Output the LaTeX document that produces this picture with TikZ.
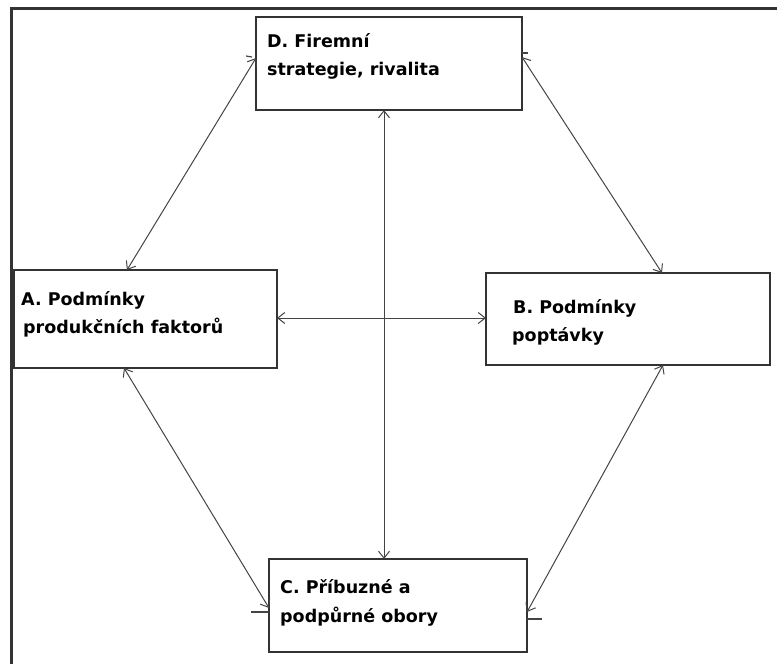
\documentclass[tikz,border=0pt]{standalone}
\usepackage{fontspec}
\setmainfont{DejaVu Sans}
\usetikzlibrary{arrows.meta}
\definecolor{boxline}{HTML}{333333}
\definecolor{arrline}{HTML}{444444}
\tikzset{
  box/.style={draw=boxline, line width=2pt, rectangle, inner sep=0pt, outer sep=0pt, anchor=north west, fill=white},
  lbl/.style={anchor=base west, inner sep=0pt, font=\fontsize{17.5}{21}\selectfont\bfseries, text=black},
  link/.style={draw=arrline, line width=1pt, {Straight Barb[length=7pt,width=11pt]}-{Straight Barb[length=7pt,width=11pt]}},
  stub/.style={draw=arrline, line width=1.2pt},
  frame/.style={draw=boxline, line width=3pt}
}
\begin{document}
\begin{tikzpicture}[x=1pt,y=-1pt]
\useasboundingbox (0,0) rectangle (777,664);
% outer frame (only top and left visible)
\coordinate (f1) at (11,664);
\coordinate (f2) at (11,8);
\coordinate (f3) at (777,8);
\draw[frame] (f1) -- (f2) -- (f3);
% boxes
\node[box, minimum width=266pt, minimum height=93pt] (D) at (256,17) {};
\node[box, minimum width=263pt, minimum height=98pt] (A) at (14,270) {};
\node[box, minimum width=284pt, minimum height=92pt] (B) at (486,273) {};
\node[box, minimum width=258pt, minimum height=93pt] (C) at (269,559) {};
% labels
\node[lbl] (d1) at (267,47) {D.\ Firemní};
\node[lbl] (d2) at (267,75) {strategie, rivalita};
\node[lbl] (a1) at (21,305) {A.\ Podmínky};
\node[lbl] (a2) at (23,333) {produkčních faktorů};
\node[lbl] (b1) at (513,313) {B.\ Podmínky};
\node[lbl] (b2) at (512,341) {poptávky};
\node[lbl] (c1) at (280,593) {C.\ Příbuzné a};
\node[lbl] (c2) at (280,622) {podpůrné obory};
% connectors
\draw[link] ([yshift=-41pt]D.north west) -- ([xshift=113pt]A.north west);
\draw[link] ([yshift=-40pt]D.north east) -- ([xshift=176pt]B.north west);
\draw[link] ([xshift=110pt]A.south west) -- ([yshift=-49pt]C.north west);
\draw[link] ([xshift=177pt]B.south west) -- ([yshift=-53pt]C.north east);
\draw[link] ([xshift=128pt]D.south west) -- ([xshift=115pt]C.north west);
\draw[link] ([yshift=-48pt]A.north east) -- ([yshift=-45pt]B.north west);
% small end stubs
\draw[stub] ([yshift=-53pt]C.north west) -- +(-18pt,0);
\draw[stub] ([yshift=-60pt]C.north east) -- +(15pt,0);
\draw[stub] ([yshift=-36pt]D.north east) -- +(6pt,0);
\draw[stub] ([xshift=-4pt,yshift=-40pt]D.north west) -- +(-6pt,1pt);
\end{tikzpicture}
\end{document}
